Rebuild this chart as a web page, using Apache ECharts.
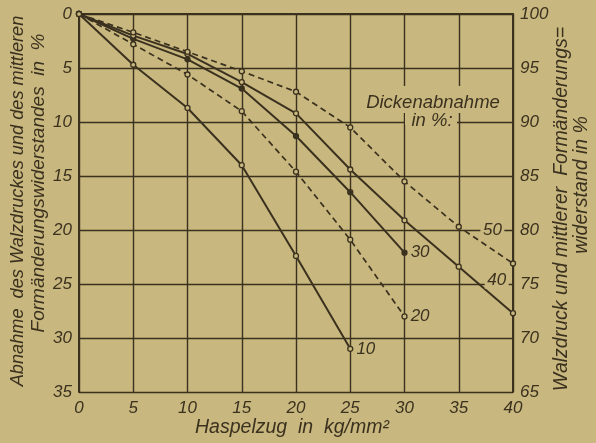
<!DOCTYPE html>
<html><head><meta charset="utf-8">
<script src="https://cdn.jsdelivr.net/npm/echarts@6/dist/echarts.min.js"></script>
<style>html,body{margin:0;padding:0;background:#c8b77e;}#c{width:596px;height:443px;}</style>
</head><body><div id="c"></div>
<script>
// Haspelzug in kg/mm^2
const xValues = [0, 5, 10, 15, 20, 25, 30, 35, 40];
// Abnahme in % for each Dickenabnahme
const s10 = [0, 4.7, 8.7, 14.0, 22.4, 31.0];
const s20 = [0, 2.8, 5.6, 9.0, 14.6, 20.9, 28.0];
const s30 = [0, 2.3, 4.2, 6.9, 11.3, 16.5, 22.1];
const s40 = [0, 2.0, 3.7, 6.3, 9.2, 14.4, 19.1, 23.4, 27.7];
const s50 = [0, 1.7, 3.5, 5.3, 7.2, 10.5, 15.5, 19.7, 23.1];
const seriesNames = ['10', '20', '30', '40', '50'];
// label anchor points (data coords) for 40 and 50
const label40 = [38.5, 24.7];
const label50 = [38.1, 20.0];
const leftTicks = [0, 5, 10, 15, 20, 25, 30, 35];
const rightTicks = [100, 95, 90, 85, 80, 75, 70, 65];

const ink = '#3b311f';
const bg = '#c8b77e';
const font = 'Liberation Sans';

function pairs(vals) { return vals.map((v, i) => [xValues[i], v]); }

const chart = echarts.init(document.getElementById('c'));
function mk(name, vals, dashed, filled) {
  return {
    name: name, type: 'line', data: pairs(vals), yAxisIndex: 0,
    symbol: 'circle', symbolSize: 5,
    itemStyle: { color: filled ? ink : bg, borderColor: ink, borderWidth: 1.3 },
    lineStyle: { color: ink, width: dashed ? 1.7 : 2, type: dashed ? [6, 4] : 'solid' },
    z: 3, animation: false
  };
}
const labelStyle = { color: ink, fontFamily: font, fontStyle: 'italic', fontSize: 17, textBorderWidth: 0 };
const sList = [
  mk('10', s10, false, false),
  mk('20', s20, true, false),
  mk('30', s30, false, true),
  mk('40', s40, false, false),
  mk('50', s50, true, false)
];
// end labels for 10, 20, 30
[0, 1, 2].forEach(i => {
  const d = sList[i].data;
  const last = d[d.length - 1];
  d[d.length - 1] = { value: last, label: Object.assign({ show: true, position: 'right', distance: 3, formatter: seriesNames[i] }, labelStyle) };
});

const axisLabelStyle = { color: ink, fontFamily: font, fontStyle: 'italic', fontSize: 17 };
const tfont = (s) => 'italic ' + s + 'px "Liberation Sans"';
const graphics = [
  { type: 'rect', shape: { x: 364, y: 86, width: 138, height: 27 }, style: { fill: bg }, z: 1 },
  { type: 'rect', shape: { x: 405, y: 112, width: 52, height: 13 }, style: { fill: bg }, z: 1 },
  { type: 'text', x: 433, y: 103, z: 5, style: { text: 'Dickenabnahme', fill: ink, font: tfont(18.5), textAlign: 'center', textVerticalAlign: 'middle' } },
  { type: 'text', x: 432, y: 121, z: 5, style: { text: 'in %:', fill: ink, font: tfont(18.5), textAlign: 'center', textVerticalAlign: 'middle' } },
  { type: 'text', x: 18, y: 201, rotation: Math.PI / 2, z: 5, style: { text: 'Abnahme  des Walzdruckes und des mittleren', fill: ink, font: tfont(18.2), textAlign: 'center', textVerticalAlign: 'middle' } },
  { type: 'text', x: 39, y: 183, rotation: Math.PI / 2, z: 5, style: { text: 'Formänderungswiderstandes  in  %', fill: ink, font: tfont(19), textAlign: 'center', textVerticalAlign: 'middle' } },
  { type: 'text', x: 562, y: 209, rotation: Math.PI / 2, z: 5, style: { text: 'Walzdruck und mittlerer  Formänderungs=', fill: ink, font: tfont(19.5), textAlign: 'center', textVerticalAlign: 'middle' } },
  { type: 'text', x: 582, y: 185, rotation: Math.PI / 2, z: 5, style: { text: 'widerstand in %', fill: ink, font: tfont(19.5), textAlign: 'center', textVerticalAlign: 'middle' } },
  { type: 'text', x: 292, y: 428, z: 5, style: { text: 'Haspelzug  in  kg/mm²', fill: ink, font: tfont(19.5), textAlign: 'center', textVerticalAlign: 'middle' } }
];
chart.setOption({
  backgroundColor: bg,
  animation: false,
  grid: { left: 79, top: 14, right: 83, bottom: 51 },
  xAxis: {
    type: 'value', min: 0, max: 40, interval: 5,
    axisLine: { show: true, lineStyle: { color: ink, width: 2 } },
    axisTick: { show: false },
    splitLine: { show: true, lineStyle: { color: ink, width: 1.4 } },
    axisLabel: Object.assign({ margin: 8 }, axisLabelStyle)
  },
  yAxis: [
    {
      type: 'value', min: 0, max: 35, interval: 5, inverse: true, position: 'left',
      axisLine: { show: true, lineStyle: { color: ink, width: 2 } },
      axisTick: { show: false },
      splitLine: { show: true, lineStyle: { color: ink, width: 1.4 } },
      axisLabel: Object.assign({ margin: 7, formatter: v => leftTicks.includes(v) ? String(v) : '' }, axisLabelStyle)
    },
    {
      type: 'value', min: 65, max: 100, interval: 5, position: 'right',
      axisLine: { show: true, lineStyle: { color: ink, width: 2 } },
      axisTick: { show: false },
      splitLine: { show: false },
      axisLabel: Object.assign({ margin: 7, formatter: v => rightTicks.includes(v) ? String(v) : '' }, axisLabelStyle)
    }
  ],
  series: sList,
  graphic: graphics
});
// inline labels for 40 and 50, positioned through the axes' scales
[[label40, '40'], [label50, '50']].forEach(([pt, txt]) => {
  const p = chart.convertToPixel({ xAxisIndex: 0, yAxisIndex: 0 }, pt);
  graphics.push({ type: 'rect', shape: { x: p[0] - 12, y: p[1] - 8, width: 24, height: 16 }, style: { fill: bg }, z: 4 });
  graphics.push({ type: 'text', x: p[0], y: p[1], z: 5, style: { text: txt, fill: ink, font: tfont(17), textAlign: 'center', textVerticalAlign: 'middle' } });
});
chart.setOption({ graphic: graphics });
</script>
</body></html>
